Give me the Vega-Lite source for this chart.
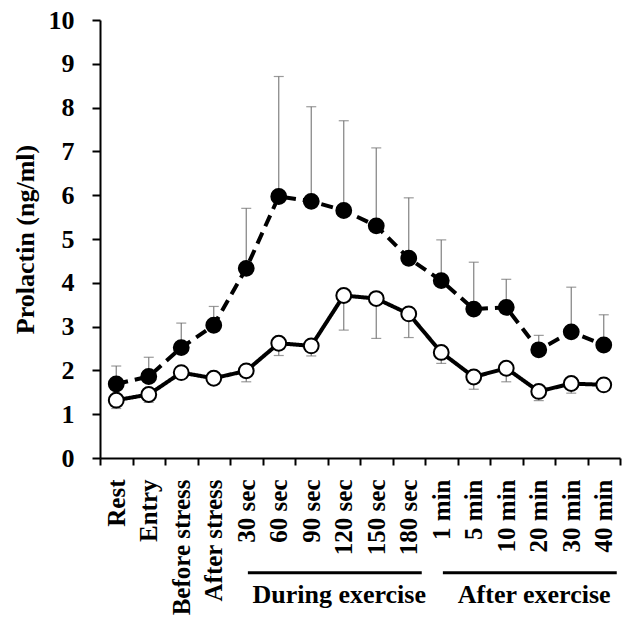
{
  "$schema": "https://vega.github.io/schema/vega-lite/v6.json",
  "autosize": {"type": "none"},
  "width": 520,
  "height": 438,
  "padding": {"left": 100, "top": 20, "right": 5, "bottom": 159},
  "background": "white",
  "config": {
    "view": {"stroke": null},
    "font": "Liberation Serif",
    "axis": {"grid": false}
  },
  "datasets": {
    "main": [
      {"time": "Rest", "series": "filled", "value": 1.69, "err": 2.10},
      {"time": "Entry", "series": "filled", "value": 1.86, "err": 2.30},
      {"time": "Before stress", "series": "filled", "value": 2.52, "err": 3.08},
      {"time": "After stress", "series": "filled", "value": 3.03, "err": 3.46},
      {"time": "30 sec", "series": "filled", "value": 4.33, "err": 5.70},
      {"time": "60 sec", "series": "filled", "value": 5.97, "err": 8.71},
      {"time": "90 sec", "series": "filled", "value": 5.86, "err": 8.02},
      {"time": "120 sec", "series": "filled", "value": 5.65, "err": 7.70},
      {"time": "150 sec", "series": "filled", "value": 5.30, "err": 7.08},
      {"time": "180 sec", "series": "filled", "value": 4.56, "err": 5.94},
      {"time": "1 min", "series": "filled", "value": 4.05, "err": 4.98},
      {"time": "5 min", "series": "filled", "value": 3.40, "err": 4.47},
      {"time": "10 min", "series": "filled", "value": 3.44, "err": 4.08},
      {"time": "20 min", "series": "filled", "value": 2.47, "err": 2.80},
      {"time": "30 min", "series": "filled", "value": 2.88, "err": 3.90},
      {"time": "40 min", "series": "filled", "value": 2.58, "err": 3.27},
      {"time": "Rest", "series": "open", "value": 1.32, "err": 1.13},
      {"time": "Entry", "series": "open", "value": 1.45, "err": 1.27},
      {"time": "Before stress", "series": "open", "value": 1.95, "err": 1.82},
      {"time": "After stress", "series": "open", "value": 1.82, "err": 1.70},
      {"time": "30 sec", "series": "open", "value": 1.99, "err": 1.74},
      {"time": "60 sec", "series": "open", "value": 2.62, "err": 2.34},
      {"time": "90 sec", "series": "open", "value": 2.56, "err": 2.33},
      {"time": "120 sec", "series": "open", "value": 3.71, "err": 2.92},
      {"time": "150 sec", "series": "open", "value": 3.64, "err": 2.73},
      {"time": "180 sec", "series": "open", "value": 3.29, "err": 2.75},
      {"time": "1 min", "series": "open", "value": 2.41, "err": 2.16},
      {"time": "5 min", "series": "open", "value": 1.85, "err": 1.57},
      {"time": "10 min", "series": "open", "value": 2.05, "err": 1.74},
      {"time": "20 min", "series": "open", "value": 1.52, "err": 1.31},
      {"time": "30 min", "series": "open", "value": 1.70, "err": 1.48},
      {"time": "40 min", "series": "open", "value": 1.67, "err": 1.55}
    ],
    "groups": [
      {"label": "During exercise", "start": "30 sec", "end": "180 sec", "mid": "120 sec"},
      {"label": "After exercise", "start": "1 min", "end": "40 min", "mid": "20 min"}
    ]
  },
  "encoding": {
    "x": {
      "field": "time",
      "type": "nominal",
      "sort": null,
      "scale": {"domain": ["Rest", "Entry", "Before stress", "After stress", "30 sec", "60 sec", "90 sec", "120 sec", "150 sec", "180 sec", "1 min", "5 min", "10 min", "20 min", "30 min", "40 min"], "paddingInner": 0, "paddingOuter": 0},
      "axis": {
        "title": null,
        "labelAngle": -90,
        "labelAlign": "right",
        "labelBaseline": "middle",
        "labelFont": "Liberation Serif",
        "labelFontWeight": "bold",
        "labelFontSize": 25,
        "labelColor": "black",
        "labelPadding": 14,
        "tickBand": "extent",
        "tickSize": 7,
        "tickWidth": 2,
        "tickColor": "black",
        "domainColor": "black",
        "domainWidth": 2
      }
    },
    "y": {
      "type": "quantitative",
      "scale": {"domain": [0, 10], "nice": false, "zero": true}
    }
  },
  "layer": [
    {
      "data": {"name": "main"},
      "mark": {"type": "rule", "color": "#808080", "strokeWidth": 1.2},
      "encoding": {
        "y": {"field": "value", "type": "quantitative",
          "axis": {
            "title": "Prolactin (ng/ml)",
            "titleFont": "Liberation Serif",
            "titleFontWeight": "bold",
            "titleFontSize": 26,
            "titleColor": "black",
            "titlePadding": 10,
            "values": [0, 1, 2, 3, 4, 5, 6, 7, 8, 9, 10],
            "labelFont": "Liberation Serif",
            "labelFontWeight": "bold",
            "labelFontSize": 26,
            "labelColor": "black",
            "labelPadding": 18,
            "tickSize": 8,
            "tickWidth": 2,
            "tickColor": "black",
            "domainColor": "black",
            "domainWidth": 2
          }
        },
        "y2": {"field": "err"}
      }
    },
    {
      "data": {"name": "main"},
      "mark": {"type": "tick", "color": "#707070", "size": 10, "thickness": 1.2},
      "encoding": {
        "y": {"field": "err", "type": "quantitative"}
      }
    },
    {
      "data": {"name": "main"},
      "mark": {"type": "line", "color": "black", "strokeWidth": 4},
      "encoding": {
        "y": {"field": "value", "type": "quantitative"},
        "detail": {"field": "series"},
        "strokeDash": {
          "field": "series",
          "type": "nominal",
          "scale": {"domain": ["filled", "open"], "range": [[12, 7], [1, 0]]},
          "legend": null
        }
      }
    },
    {
      "data": {"name": "main"},
      "mark": {"type": "point", "shape": "circle", "filled": true, "size": 220, "stroke": "black", "strokeWidth": 2, "opacity": 1},
      "encoding": {
        "y": {"field": "value", "type": "quantitative"},
        "fill": {
          "field": "series",
          "type": "nominal",
          "scale": {"domain": ["filled", "open"], "range": ["black", "white"]},
          "legend": null
        }
      }
    },
    {
      "data": {"name": "groups"},
      "mark": {"type": "rule", "color": "black", "strokeWidth": 3},
      "encoding": {
        "x": {"field": "start", "type": "nominal", "bandPosition": 0.55},
        "x2": {"field": "end", "bandPosition": 0.9},
        "y": {"datum": -2.62}
      }
    },
    {
      "data": {"name": "groups"},
      "mark": {"type": "text", "font": "Liberation Serif", "fontWeight": "bold", "fontSize": 26, "color": "black", "align": "center", "baseline": "alphabetic"},
      "encoding": {
        "x": {"field": "mid", "type": "nominal", "bandPosition": 0.36},
        "y": {"datum": -3.3},
        "text": {"field": "label"}
      }
    }
  ]
}
